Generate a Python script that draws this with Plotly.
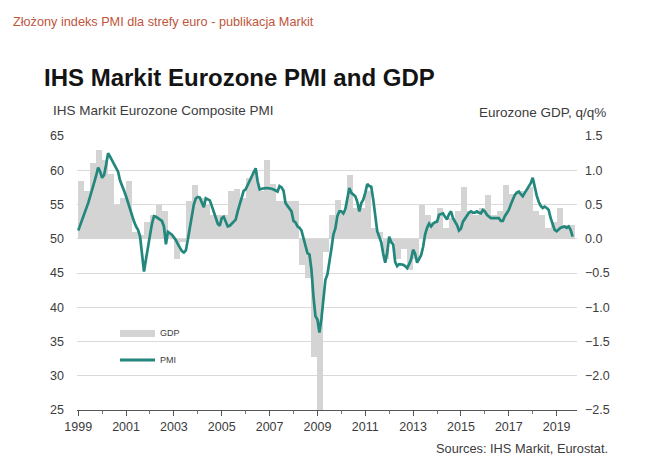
import plotly.graph_objects as go

# Eurozone GDP, q/q % (quarterly, 1999 Q1 .. 2019 Q3)
gdp_values = [
    0.85, 0.70, 1.10, 1.30,    # 1999
    1.15, 0.95, 0.50, 0.60,    # 2000
    0.85, 0.10, 0.05, 0.25,    # 2001
    0.35, 0.50, 0.40, 0.05,    # 2002
    -0.30, -0.05, 0.55, 0.78,  # 2003
    0.60, 0.50, 0.35, 0.35,    # 2004
    0.35, 0.69, 0.73, 0.60,    # 2005
    0.89, 1.00, 0.70, 1.15,    # 2006
    0.80, 0.55, 0.55, 0.55,    # 2007
    0.55, -0.38, -0.57, -1.72, # 2008
    -3.00, -0.20, 0.35, 0.57,  # 2009
    0.40, 0.93, 0.45, 0.45,    # 2010
    0.70, 0.15, 0.10, -0.30,   # 2011
    -0.05, -0.30, -0.15, -0.45,# 2012
    -0.30, 0.50, 0.35, 0.25,   # 2013
    0.45, 0.15, 0.30, 0.40,    # 2014
    0.76, 0.40, 0.35, 0.45,    # 2015
    0.64, 0.35, 0.40, 0.79,    # 2016
    0.65, 0.70, 0.70, 0.75,    # 2017
    0.40, 0.35, 0.15, 0.25,    # 2018
    0.45, 0.20, 0.20,          # 2019
]

# IHS Markit Eurozone Composite PMI (monthly, Jan 1999 .. Sep 2019)
pmi_values = [
    51.2, 52.0, 52.8, 53.5, 54.2, 55.2, 56.2, 57.2, 58.0, 59.2, 60.4, 59.8,  # 1999
    58.9, 59.3, 60.8, 62.5, 62.0, 61.5, 60.8, 60.3, 59.8, 58.5, 57.6, 57.0,  # 2000
    56.2, 55.2, 54.3, 53.3, 52.5, 51.8, 51.3, 50.4, 48.0, 45.2, 47.0, 49.0,  # 2001
    50.5, 52.2, 53.3, 53.2, 53.0, 52.9, 52.6, 51.8, 49.2, 51.0, 50.8, 50.6,  # 2002
    50.2, 49.8, 49.2, 48.7, 48.2, 48.0, 48.3, 49.9, 51.8, 53.5, 55.0, 55.9,  # 2003
    56.1, 56.0, 55.3, 54.6, 55.9, 55.8, 55.6, 54.8, 54.0, 53.3, 52.2, 51.9,  # 2004
    53.0, 53.2, 52.5, 51.8, 51.9, 52.2, 52.6, 52.8, 54.0, 55.0, 56.0, 57.0,  # 2005
    57.2, 57.8, 58.4, 58.9, 59.5, 60.3, 58.4, 57.2, 57.3, 57.4, 57.4, 57.4,  # 2006
    57.4, 57.3, 57.2, 57.0, 56.9, 57.7, 57.5, 57.0, 55.2, 54.8, 54.4, 54.0,  # 2007
    52.6, 52.4, 51.8, 51.6, 51.2, 50.1, 48.6, 47.9, 47.7, 45.5, 41.6, 38.7,  # 2008
    38.2, 36.3, 38.3, 41.2, 44.0, 44.8, 46.5, 48.5, 50.6, 51.5, 53.3, 54.0,  # 2009
    54.0, 53.7, 54.3, 55.7, 57.4, 56.7, 56.4, 56.2, 55.4, 54.0, 55.2, 55.7,  # 2010
    56.7, 58.0, 57.7, 57.6, 55.7, 53.3, 51.1, 50.3, 49.5, 47.8, 46.5, 48.0,  # 2011
    50.3, 49.5, 49.2, 46.6, 46.0, 46.3, 46.3, 46.2, 46.0, 45.7, 46.3, 47.0,  # 2012
    48.4, 47.8, 46.5, 47.0, 47.6, 48.8, 50.6, 51.6, 52.2, 51.8, 52.2, 52.4,  # 2013
    52.5, 53.5, 53.6, 53.7, 53.2, 52.8, 53.6, 54.0, 53.0, 52.5, 52.0, 51.2,  # 2014
    51.5, 52.5, 53.0, 53.3, 53.8, 54.0, 53.8, 53.8, 54.0, 53.8, 53.7, 54.2,  # 2015
    54.0, 53.5, 53.2, 53.0, 53.0, 53.0, 53.0, 53.0, 52.6, 52.6, 53.3, 53.8,  # 2016
    54.2, 55.0, 55.7, 56.4, 56.7, 56.9, 56.5, 56.2, 56.7, 57.2, 57.8, 58.1,  # 2017
    58.9, 57.3, 56.3, 55.4, 54.8, 54.5, 54.7, 54.5, 54.2, 53.0, 52.2, 51.3,  # 2018
    51.1, 51.4, 51.6, 51.7, 51.8, 51.6, 51.8, 51.3, 50.3,                    # 2019
]

first_year = 1999
year_labels = [1999, 2001, 2003, 2005, 2007, 2009, 2011, 2013, 2015, 2017, 2019]
minor_years = list(range(2000, 2019, 2))

# time positions in decimal years
pmi_x = [first_year + i / 12 for i in range(len(pmi_values))]
gdp_x = [first_year + q / 4 + 0.125 for q in range(len(gdp_values))]

TEAL = "#22877c"
BAR = "#d4d4d4"
TXT = "#3c3c3c"
FONT = "Liberation Sans, Arial, sans-serif"

# the page body adds an 8px margin, so the figure is shrunk to fit the window
PAGE_OFF = 8
W, H = 645 - 2 * PAGE_OFF, 464 - 2 * PAGE_OFF

# plot box in window pixels
L, R, T, B = 77, 577, 136, 410


def px_x(p):
    return (p - L) / (R - L)


def px_y(p):
    return (B - p) / (B - T)


fig = go.Figure()

fig.add_trace(go.Bar(
    x=gdp_x, y=gdp_values, width=0.25,
    marker=dict(color=BAR, line=dict(width=0)),
    name="GDP", yaxis="y", showlegend=False,
))

fig.add_trace(go.Scatter(
    x=pmi_x, y=pmi_values, mode="lines",
    line=dict(color=TEAL, width=2.7),
    name="PMI", yaxis="y2", showlegend=False,
))

fig.update_layout(
    width=W, height=H,
    margin=dict(l=L - PAGE_OFF, r=W - (R - PAGE_OFF), t=T - PAGE_OFF, b=H - (B - PAGE_OFF)),
    paper_bgcolor="white", plot_bgcolor="white",
    font=dict(family=FONT, color=TXT, size=12),
    bargap=0,
    xaxis=dict(
        range=[1998.95, 2019.85],
        tickmode="array", tickvals=year_labels,
        ticks="outside", ticklen=5, tickcolor="#555",
        showline=True, linecolor="#555", linewidth=1,
        showgrid=False, zeroline=False,
        tickfont=dict(size=12.5, color=TXT),
        minor=dict(tickvals=minor_years, ticks="outside", ticklen=3, tickcolor="#777"),
    ),
    yaxis=dict(
        range=[-2.5, 1.5], dtick=0.5, tickformat=".1f",
        side="right", showgrid=True, gridcolor="#dadada", gridwidth=1,
        zeroline=False, ticks="", ticklabelstandoff=7,
        tickfont=dict(size=12.5, color=TXT),
    ),
    yaxis2=dict(
        range=[25, 65], dtick=5, overlaying="y", side="left",
        showgrid=False, zeroline=False, ticks="", ticklabelstandoff=12,
        tickfont=dict(size=12.5, color=TXT),
    ),
)

# legend drawn by hand to get the wide swatches
fig.add_shape(type="rect", xref="paper", yref="paper",
              x0=px_x(120), x1=px_x(155), y0=px_y(337), y1=px_y(330),
              fillcolor=BAR, line=dict(width=0))
fig.add_shape(type="line", xref="paper", yref="paper",
              x0=px_x(120), x1=px_x(155), y0=px_y(360), y1=px_y(360),
              line=dict(color=TEAL, width=3))

notes = [
    (158, 333, "GDP", "left", 9, TXT),
    (158, 360, "PMI", "left", 9, TXT),
    (11, 22, "Złożony indeks PMI dla strefy euro - publikacja Markit", "left", 12.7, "#c0553d"),
    (42, 77, "<b>IHS Markit Eurozone PMI and GDP</b>", "left", 24, "#141414"),
    (51, 111, "IHS Markit Eurozone Composite PMI", "left", 13.5, TXT),
    (608, 112, "Eurozone GDP, q/q%", "right", 13.5, TXT),
    (610, 448, "Sources: IHS Markit, Eurostat.", "right", 12.8, TXT),
]
for x, y, text, anchor, size, color in notes:
    fig.add_annotation(x=px_x(x), y=px_y(y), xref="paper", yref="paper", text=text,
                       showarrow=False, xanchor=anchor, yanchor="middle",
                       font=dict(size=size, color=color, family=FONT))

fig.write_html("out.html")
